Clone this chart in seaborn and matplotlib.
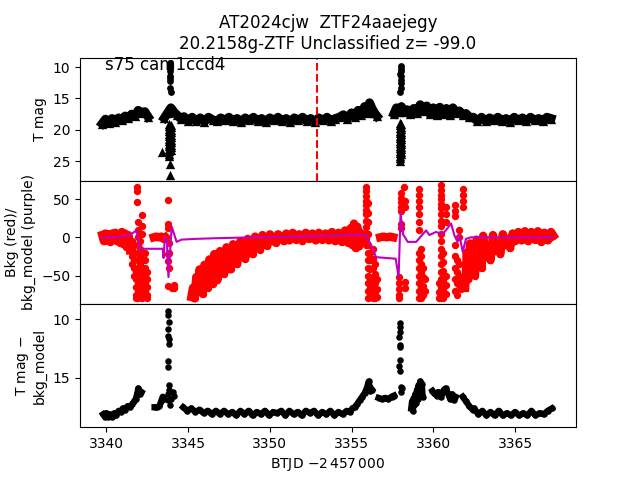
import matplotlib
matplotlib.use("Agg")
import matplotlib.pyplot as plt
import seaborn as sns

# ---------------- top panel: T mag ----------------
# continuous stretches of the light curve (upper-limit triangles)
top_band_t = [
    [3339.75, 3339.95, 3340.15, 3340.35, 3340.55, 3340.75, 3340.95, 3341.15, 3341.35, 3341.55,
     3341.75, 3341.95, 3342.15, 3342.35, 3342.55],
    [3343.55, 3343.75, 3343.95, 3344.15, 3344.35, 3344.55, 3344.75,
     3345.0, 3345.25, 3345.5, 3345.75, 3346.0, 3346.25, 3346.5, 3346.75, 3347.0, 3347.25,
     3347.5, 3347.75, 3348.0, 3348.25, 3348.5, 3348.75, 3349.0, 3349.25, 3349.5, 3349.75,
     3350.0, 3350.25, 3350.5, 3350.75, 3351.0, 3351.25, 3351.5, 3351.75, 3352.0, 3352.25,
     3352.5, 3352.75, 3353.0, 3353.25, 3353.5, 3353.75, 3354.0,
     3354.25, 3354.5, 3354.75, 3355.0, 3355.2, 3355.4, 3355.6, 3355.8, 3355.95, 3356.1,
     3356.25, 3356.4, 3356.55],
    [3357.6, 3357.75, 3357.9, 3358.05, 3358.2, 3358.4, 3358.6, 3358.8, 3359.0, 3359.2,
     3359.4, 3359.6, 3359.8, 3360.0, 3360.2, 3360.4, 3360.6, 3360.8, 3361.0, 3361.2,
     3361.4, 3361.6, 3361.8, 3362.0, 3362.2, 3362.45, 3362.7, 3362.95, 3363.2, 3363.45,
     3363.7, 3363.95, 3364.2, 3364.45, 3364.7, 3364.95, 3365.2, 3365.45, 3365.7, 3365.95,
     3366.2, 3366.45, 3366.7, 3366.95, 3367.2],
]
top_band_mag = [
    [19.0, 18.3, 18.9, 18.2, 18.7, 18.1, 18.4, 17.8, 18.1, 17.5,
     17.8, 16.9, 17.3, 17.1, 17.9],
    [18.1, 17.3, 16.5, 17.2, 17.7, 18.2, 17.9,
     18.6, 18.0, 18.6, 18.1, 18.7, 18.0, 18.4, 18.6, 18.1, 18.5,
     18.0, 18.6, 18.2, 18.7, 18.1, 18.5, 18.0, 18.6, 18.2, 18.7,
     18.1, 18.5, 18.0, 18.6, 18.2, 18.7, 18.1, 18.5, 18.0, 18.6,
     18.2, 18.7, 18.1, 18.5, 18.0, 18.6, 18.2,
     18.0, 17.6, 18.2, 17.3, 17.9, 16.9, 17.6, 16.3, 17.3, 15.7,
     16.6, 17.3, 17.8],
    [17.4, 16.5, 17.1, 16.3, 17.2, 16.8, 17.4, 16.6, 17.3, 16.0,
     17.0, 16.2, 17.5, 16.5, 17.6, 16.4, 17.4, 16.6, 17.6, 16.5,
     17.3, 17.0, 17.7, 17.4, 18.0, 18.0, 18.6, 18.0, 18.6, 18.1,
     18.5, 18.0, 18.6, 18.2, 18.7, 18.0, 18.5, 18.1, 18.6, 18.0,
     18.5, 18.2, 18.6, 18.0, 18.2],
]

# faint limits piled up during the two bright episodes
lim_col_t = [3343.85, 3343.95, 3357.94, 3358.01]
lim_col_mag = [
    [19.0, 19.4, 19.8, 20.2, 20.6, 21.0, 21.4, 21.8, 22.2, 22.6, 23.0, 23.4, 23.8, 24.1],
    [19.2, 19.6, 20.0, 20.4, 20.8, 21.2, 21.6, 22.0, 22.4, 22.8, 23.2],
    [18.9, 19.3, 19.7, 20.1, 20.5, 20.9, 21.3, 21.7, 22.1, 22.5, 22.9, 23.3, 23.7, 24.1,
     24.5, 25.0],
    [19.1, 19.5, 19.9, 20.3, 20.7, 21.1, 21.5, 21.9, 22.3, 22.7, 23.1, 23.5, 23.9],
]
lim_extra_t = [3343.38, 3343.92, 3343.92]
lim_extra_mag = [23.5, 25.5, 27.2]

det_t = [3343.9, 3343.92, 3343.9, 3343.88, 3343.92, 3343.9, 3343.9, 3343.93, 3343.9,
         3358.0, 3358.0, 3358.02, 3357.98, 3358.0, 3358.02, 3358.0, 3358.0, 3357.98]
det_mag = [9.4, 9.8, 10.2, 11.4, 11.8, 12.2, 13.3, 13.9, 10.6,
           9.9, 10.3, 10.7, 11.1, 11.5, 12.1, 12.6, 13.4, 13.9]

t_marker = 3352.9

# ---------------- middle panel: background / model ----------------
bkg_band_t = [
    [3339.75, 3339.85, 3339.95, 3340.05, 3340.15, 3340.25, 3340.35, 3340.45, 3340.55, 3340.65,
     3340.75, 3340.85, 3340.95, 3341.05, 3341.15, 3341.25, 3341.35, 3341.45],
    [3342.9, 3343.05, 3343.2, 3343.35, 3343.5, 3343.62],
    [3345.2, 3345.3, 3345.4, 3345.5, 3345.6, 3345.7, 3345.8, 3345.9, 3346.0, 3346.1,
     3346.2, 3346.3, 3346.4, 3346.5, 3346.6, 3346.7, 3346.8, 3346.95, 3347.1, 3347.2,
     3347.35, 3347.5, 3347.6, 3347.75, 3347.9, 3348.0, 3348.2, 3348.35, 3348.5, 3348.65,
     3348.8, 3348.95, 3349.1, 3349.25, 3349.4, 3349.55, 3349.7, 3349.85, 3350.0, 3350.2,
     3350.35, 3350.5, 3350.7, 3350.85,
     3351.0, 3351.2, 3351.4, 3351.6, 3351.8, 3352.0, 3352.2, 3352.4, 3352.6, 3352.8,
     3353.0, 3353.2, 3353.4, 3353.6, 3353.8, 3354.0, 3354.2, 3354.4, 3354.6, 3354.8,
     3354.95, 3355.05, 3355.15, 3355.25, 3355.35, 3355.45, 3355.55, 3355.65],
    [3356.75, 3356.95, 3357.15, 3357.35, 3357.55],
    [3361.95, 3362.05, 3362.15, 3362.25, 3362.35, 3362.45, 3362.55, 3362.65, 3362.75, 3362.85,
     3362.95, 3363.05, 3363.2, 3363.35, 3363.5, 3363.65, 3363.8, 3363.95, 3364.1, 3364.25,
     3364.4, 3364.55, 3364.7, 3364.85,
     3365.0, 3365.2, 3365.4, 3365.6, 3365.8, 3366.0, 3366.2, 3366.4, 3366.6, 3366.8,
     3367.0, 3367.2, 3367.35],
]
bkg_band_v = [
    [3, -5, 5, -4, 4, -6, 5, -3, 6, -5,
     4, -7, 7, -9, 5, -13, 3, -17],
    [0, 1, 0, 1, -2, 0],
    [-78, -66, -80, -52, -72, -42, -60, -74, -36, -52,
     -66, -29, -46, -61, -22, -38, -56, -18, -32, -48,
     -13, -27, -42, -9, -21, -35, -5, -16, -28, -2,
     -11, -22, 1, -7, -16, 3, -4, -11, 4, -2,
     -7, 4, -1, -5,
     5, -4, 6, -3, 4, -5, 6, -2, 5, -4,
     6, -3, 5, -4, 7, -5, 6, -6, 9, -7,
     12, -10, 18, -14, 14, -12, 6, -4],
    [0, 1, 0, 1, 0],
    [-66, -20, -55, -8, -42, -28, -50, -3, -35, -18,
     -40, 2, -26, -12, -30, 3, -18, -8, -22, 4,
     -10, -2, -14, 5,
     -5, 7, -4, 8, -5, 7, -3, 8, -6, 6,
     -4, 7, 2],
]

# scattered columns of background points during the bright episodes
bkg_col_t = [3341.55, 3341.7, 3341.8, 3341.85, 3341.95, 3342.05, 3342.2, 3342.35, 3342.5,
             3343.8, 3343.75, 3343.85, 3344.0, 3344.15,
             3355.9, 3356.0, 3356.15, 3356.3, 3356.45, 3356.55,
             3358.02, 3358.2, 3357.9, 3358.25,
             3359.15, 3359.1, 3359.25, 3359.4, 3359.5,
             3360.5, 3360.45, 3360.6, 3360.75, 3360.35,
             3361.8, 3361.35, 3361.3, 3361.45, 3361.6, 3361.7, 3361.55]
bkg_col_v = [
    [-5, -15, -25, -35],
    [-10, -20, -30, -40, -50],
    [-45, -55, -65, -75, -80],
    [66, 60, 46],
    [20, 10, 0, -10, -20, -30, -40, -50, -60, -70, -80],
    [-5, -15, -25, -35, -45, -55, -65, -75],
    [29, 15, 5, -30, -40, -50, -60, -70, -80],
    [-20, -30, -40, -50, -60, -70, -78],
    [-45, -55, -65, -75, -80],
    [49, 18, 12],
    [-22, -31, -64],
    [-8, -20, -40],
    [-66],
    [-67, -62],
    [66, 60, 54, 48, 42, 36, 30, 22, 14, 6, -2, -10],
    [45, 32, 20, 5, -10, -20, -30, -40, -50, -60, -70, -80],
    [-20, -30, -42, -54, -66, -78],
    [-15, -28, -40, -52, -64, -76, -80],
    [-35, -48, -60, -72, -80],
    [-55, -68, -78],
    [58, 52, 46, 40, 34, 18, 12],
    [66],
    [-52, -60, -68, -76, -80],
    [48, 40, -58, -66],
    [63, 56, 48, 40, 30, 20, 10],
    [-20, -30, -40, -50, -60, -70, -80],
    [-15, -25, -35, -45, -55, -65, -75, -80],
    [-40, -52, -64, -76],
    [-55, -70],
    [68, 62, 56, 50, 44, 38, 30, 22],
    [15, 5, -5, -15, -25, -35, -45, -55, -65, -75, -80],
    [-20, -32, -44, -56, -68, -80],
    [40, 30, 20, -50, -62, -74],
    [-60, -72, -80],
    [63, 56, 48, 40],
    [42, 35, 28],
    [-10, -25, -40, -55, -70],
    [-30, -45, -60, -75],
    [-35, -50, -62],
    [-55, -68],
    [10, 0],
]

mod_t = [3339.75, 3340.5, 3341.0, 3341.5, 3341.85, 3342.06, 3342.3, 3343.45, 3343.5, 3343.58,
         3343.7, 3343.8, 3344.0, 3344.3, 3344.6, 3345.5, 3347.0, 3349.0, 3352.0, 3355.0,
         3355.85, 3356.2, 3356.5, 3357.7, 3357.88, 3358.0, 3358.15, 3358.44, 3358.95, 3359.56,
         3359.76, 3360.17, 3360.58, 3361.09, 3361.3, 3361.49, 3361.6, 3361.8, 3362.0, 3362.3,
         3367.35]
mod_v = [0, 0, 1, 4, 9, -16, -15, -15, -27, 0,
         -3, -52, 14, -6, -3, -2, -1, 0, 1, 3,
         3, -10, -26, -28, -52, 31, 4, -6, -6, 9,
         3, 7, 4, 18, 2, -6, 3, -19, -2, 0,
         0]

# ---------------- bottom panel: T mag - bkg_model ----------------
sub_band_t = [
    [3339.8, 3339.9, 3340.0, 3340.1, 3340.2, 3340.35, 3340.5, 3340.6, 3340.75, 3340.9,
     3341.0, 3341.15, 3341.3, 3341.45, 3341.6, 3341.7, 3341.8, 3341.9, 3341.95, 3342.05,
     3342.15],
    [3342.95, 3343.1, 3343.25, 3343.35, 3343.45, 3343.55],
    [3344.7, 3344.95, 3345.2, 3345.45, 3345.7, 3345.95, 3346.2, 3346.45, 3346.7, 3346.95,
     3347.2, 3347.45, 3347.7, 3347.95, 3348.2, 3348.45, 3348.7, 3348.95, 3349.2, 3349.45,
     3349.7, 3349.95, 3350.2, 3350.45, 3350.7, 3350.95, 3351.2, 3351.45, 3351.7, 3351.95,
     3352.2, 3352.45, 3352.7, 3352.95, 3353.2, 3353.45, 3353.7, 3353.95, 3354.2, 3354.45,
     3354.7,
     3354.9, 3355.05, 3355.2, 3355.35, 3355.5, 3355.65, 3355.8, 3355.95, 3356.05, 3356.15,
     3356.25],
    [3356.65, 3356.85, 3357.05, 3357.25, 3357.45, 3357.6],
    [3358.65, 3358.7, 3358.75, 3358.8, 3358.85, 3358.9, 3358.95, 3359.0, 3359.05, 3359.1,
     3359.15, 3359.2, 3359.25, 3359.3, 3359.35],
    [3359.95, 3360.05, 3360.2, 3360.3, 3360.45, 3360.55, 3360.65, 3360.75, 3360.85, 3360.95,
     3361.05, 3361.15, 3361.25, 3361.35],
    [3361.8, 3362.0, 3362.2, 3362.4,
     3362.5, 3362.75, 3363.0, 3363.25, 3363.5, 3363.75, 3364.0, 3364.25, 3364.5, 3364.75,
     3365.0, 3365.25, 3365.5, 3365.75, 3366.0, 3366.25, 3366.5, 3366.75, 3367.0, 3367.25],
]
sub_band_mag = [
    [18.1, 18.3, 18.0, 18.3, 18.1, 18.3, 18.0, 18.2, 17.8, 17.9,
     17.6, 17.7, 17.4, 17.5, 17.2, 17.0, 16.8, 16.3, 15.9, 16.4,
     16.2],
    [17.5, 17.5, 17.4, 17.0, 16.6, 16.8],
    [17.5, 17.8, 17.6, 17.9, 17.7, 18.0, 17.8, 18.1, 17.8, 18.1,
     17.8, 18.1, 17.9, 18.2, 17.8, 18.1, 17.8, 18.2, 17.9, 18.1,
     17.8, 18.2, 17.9, 18.0, 17.8, 18.2, 17.8, 18.1, 17.9, 18.2,
     17.8, 18.0, 17.8, 18.2, 17.9, 18.1, 17.8, 18.2, 17.9, 18.1,
     17.8,
     17.9, 17.6, 17.5, 17.2, 16.9, 16.6, 16.3, 15.8, 15.3, 16.1,
     16.0],
    [16.7, 16.8, 16.7, 16.8, 16.6, 16.5],
    [17.6, 17.0, 17.8, 16.7, 17.3, 16.4, 17.1, 16.0, 16.8, 15.6,
     16.4, 15.3, 16.1, 15.5, 16.6],
    [16.1, 16.3, 16.5, 16.2, 16.6, 16.3, 16.0, 15.9, 16.2, 16.5,
     16.8, 16.4, 16.9, 16.6],
    [16.6, 17.0, 17.4, 17.7,
     17.6, 18.1, 17.8, 18.2, 17.9, 18.2, 17.8, 18.2, 18.0, 18.2,
     17.9, 18.2, 18.0, 18.2, 17.8, 18.2, 18.0, 18.1, 17.8, 17.6],
]

sub_spike_t = [3343.8, 3343.8, 3343.82, 3343.8, 3343.8, 3343.82, 3343.85, 3343.75, 3343.78, 3343.82,
               3343.85, 3343.8, 3343.75, 3343.9, 3344.1, 3344.15, 3343.95,
               3357.95, 3357.97, 3357.95, 3357.93, 3357.95, 3357.97, 3357.95, 3357.93, 3357.95,
               3358.0, 3358.05, 3358.1]
sub_spike_mag = [9.3, 9.6, 10.2, 10.8, 11.4, 11.7, 12.1, 13.6, 14.1, 15.6,
                 16.0, 16.4, 16.9, 17.3, 16.2, 16.5, 16.8,
                 10.35, 10.7, 11.1, 11.5, 12.2, 12.4, 13.5, 14.0, 14.45,
                 15.8, 16.2, 15.9]

title = "AT2024cjw  ZTF24aaejegy\n20.2158g-ZTF Unclassified z= -99.0"


def expand(times, value_lists):
    xs, ys = [], []
    for t, vals in zip(times, value_lists):
        xs += [t] * len(vals)
        ys += vals
    return xs, ys


def draw_bands(ax, ts, vs, color, lw, marker, s):
    for t, v in zip(ts, vs):
        sns.lineplot(x=t, y=v, ax=ax, color=color, lw=lw, sort=False, estimator=None)
        sns.scatterplot(x=t, y=v, ax=ax, color=color, marker=marker, s=s, linewidth=0)


fig, (ax1, ax2, ax3) = plt.subplots(3, 1, sharex=True, figsize=(6.4, 4.8), dpi=100)
fig.subplots_adjust(hspace=0)

# top
draw_bands(ax1, top_band_t, top_band_mag, "k", 6.5, "^", 45)
lx, ly = expand(lim_col_t, lim_col_mag)
sns.scatterplot(x=lx, y=ly, ax=ax1, color="k", marker="^", s=45, linewidth=0)
sns.scatterplot(x=lim_extra_t, y=lim_extra_mag, ax=ax1, color="k", marker="^", s=45, linewidth=0)
sns.scatterplot(x=det_t, y=det_mag, ax=ax1, color="k", marker="o", s=24, linewidth=0)
ax1.axvline(t_marker, color="r", ls="--", lw=1.5)
ax1.set_ylim(28.1, 8.5)
ax1.set_ylabel("T mag")
ax1.set_title(title)
ax1.text(0.05, 0.9, "s75 cam1ccd4", transform=ax1.transAxes, fontsize=12)

# middle
draw_bands(ax2, bkg_band_t, bkg_band_v, "r", 6, "o", 28)
cx, cy = expand(bkg_col_t, bkg_col_v)
sns.scatterplot(x=cx, y=cy, ax=ax2, color="r", marker="o", s=28, linewidth=0)
sns.lineplot(x=mod_t, y=mod_v, ax=ax2, color="m", lw=1.5, sort=False, estimator=None)
ax2.set_ylim(-87.3, 74)
ax2.set_ylabel("Bkg (red)/\nbkg_model (purple)")

# bottom
draw_bands(ax3, sub_band_t, sub_band_mag, "k", 4.5, "o", 22)
sns.scatterplot(x=sub_spike_t, y=sub_spike_mag, ax=ax3, color="k", marker="o", s=22, linewidth=0)
ax3.set_ylim(19.2, 8.7)
ax3.set_ylabel("T mag $-$\nbkg_model")
ax3.set_xlim(3338.39, 3368.73)
ax3.set_xlabel(r"BTJD $-2\,457\,000$")

plt.savefig("out.png")
